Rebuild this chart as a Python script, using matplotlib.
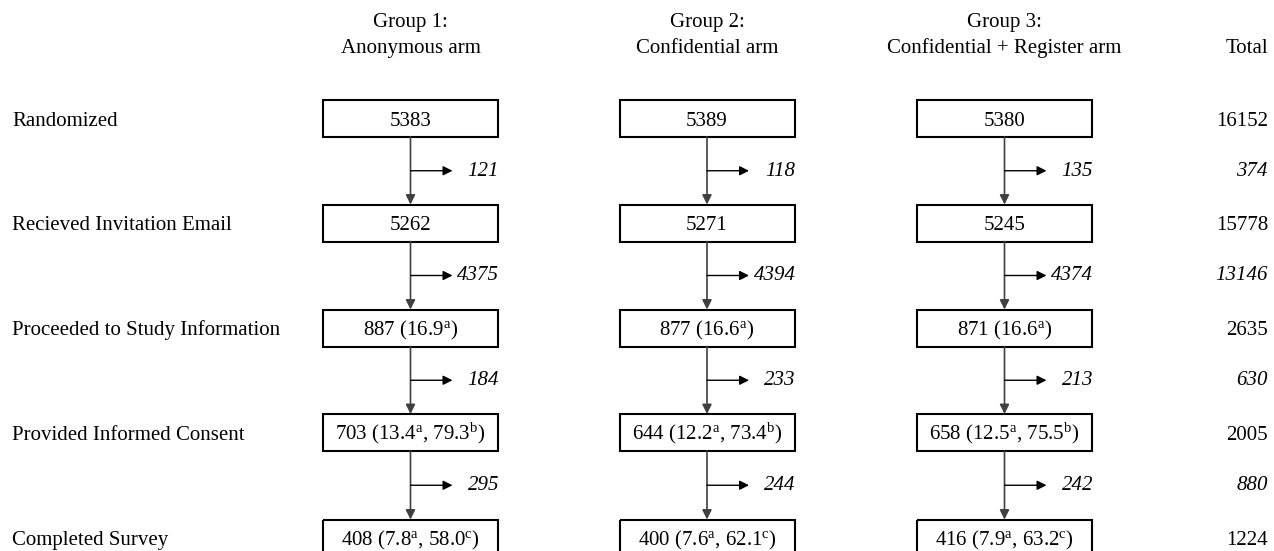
import matplotlib
matplotlib.use('Agg')
import matplotlib.pyplot as plt
from matplotlib.patches import Rectangle

plt.rcParams['font.family'] = ['Liberation Serif', 'DejaVu Serif']
plt.rcParams['mathtext.fontset'] = 'custom'
plt.rcParams['mathtext.rm'] = 'Liberation Serif'
plt.rcParams['mathtext.it'] = 'Liberation Serif:italic'

# data
stages = ['Randomized', 'Recieved Invitation Email', 'Proceeded to Study Information',
          'Provided Informed Consent', 'Completed Survey']
group_titles = ['Group 1:', 'Group 2:', 'Group 3:']
group_arms = ['Anonymous arm', 'Confidential arm', 'Confidential + Register arm']
counts = [[5383, 5262, 887, 703, 408],
          [5389, 5271, 877, 644, 400],
          [5380, 5245, 871, 658, 416]]
pct_a = [[None, None, 16.9, 13.4, 7.8],
         [None, None, 16.6, 12.2, 7.6],
         [None, None, 16.6, 12.5, 7.9]]
pct_bc = [[None, None, None, 79.3, 58.0],
          [None, None, None, 73.4, 62.1],
          [None, None, None, 75.5, 63.2]]
bc_mark = [None, None, None, 'b', 'c']
dropped = [[121, 4375, 184, 295],
           [118, 4394, 233, 244],
           [135, 4374, 213, 242]]
totals = [16152, 15778, 2635, 2005, 1224]
total_dropped = [374, 13146, 630, 880]

# layout (pixel units)
W, H = 1274, 551
col_x = [410.5, 707, 1004.5]
row_y = [118.5, 223, 328, 432.5, 538]
box_w, box_h = 175, 37
total_x = 1268
label_x = 12
fs = 15
base = 7  # baseline offset below the row centre

fig = plt.figure(figsize=(W / 100, H / 100), dpi=100)
ax = fig.add_axes([0, 0, 1, 1])
ax.set_xlim(0, W)
ax.set_ylim(H, 0)
ax.axis('off')


def box_text(g, r):
    s = str(counts[g][r])
    if pct_a[g][r] is not None:
        s += ' (%.1f$^{\\mathrm{a}}$' % pct_a[g][r]
        if pct_bc[g][r] is not None:
            s += ', %.1f$^{\\mathrm{%s}}$' % (pct_bc[g][r], bc_mark[r])
        s += ')'
    return s


for r, name in enumerate(stages):
    ax.text(label_x, row_y[r] + base, name, fontsize=fs, ha='left', va='baseline')
    ax.text(total_x, row_y[r] + base, str(totals[r]), fontsize=fs, ha='right', va='baseline')

ax.text(total_x, 53, 'Total', fontsize=fs, ha='right', va='baseline')

for g, cx in enumerate(col_x):
    ax.text(cx, 27, group_titles[g], fontsize=fs, ha='center', va='baseline')
    ax.text(cx, 53, group_arms[g], fontsize=fs, ha='center', va='baseline')
    for r in range(len(stages)):
        ax.add_patch(Rectangle((cx - box_w / 2, row_y[r] - box_h / 2), box_w, box_h,
                               fill=False, ec='black', lw=1.5))
        ax.text(cx, row_y[r] + base, box_text(g, r), fontsize=fs, ha='center', va='baseline')
    for r in range(len(stages) - 1):
        y0 = row_y[r] + box_h / 2
        y1 = row_y[r + 1] - box_h / 2
        ax.annotate('', xy=(cx, y1), xytext=(cx, y0),
                    arrowprops=dict(arrowstyle='-|>', color='#404040', lw=1.2,
                                    mutation_scale=14, shrinkA=0, shrinkB=0))
        ym = (y0 + y1) / 2
        ax.annotate('', xy=(cx + 42, ym), xytext=(cx, ym),
                    arrowprops=dict(arrowstyle='-|>', color='black', lw=1.0,
                                    mutation_scale=14, shrinkA=0, shrinkB=0))
        ax.text(cx + box_w / 2 + 1, ym + 5, str(dropped[g][r]), fontsize=fs,
                style='italic', ha='right', va='baseline')

for r, v in enumerate(total_dropped):
    ym = (row_y[r] + row_y[r + 1]) / 2
    ax.text(total_x, ym + 5, str(v), fontsize=fs, style='italic', ha='right', va='baseline')

fig.savefig('out.png', dpi=100, facecolor='white')
